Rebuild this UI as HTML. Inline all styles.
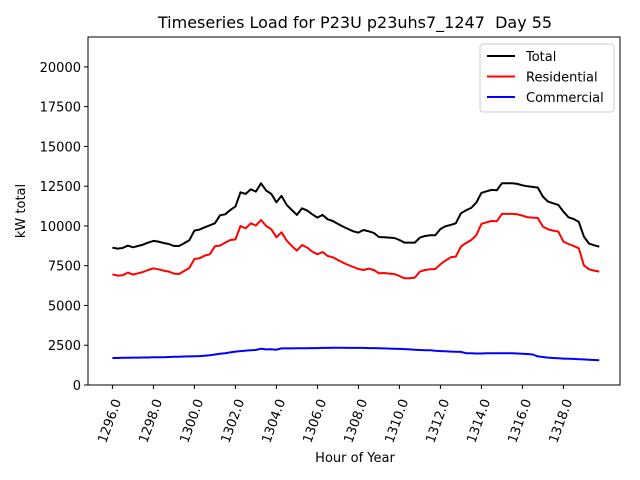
<!DOCTYPE html>
<html><head><meta charset="utf-8"><style>
body{margin:0;background:#fff;}
svg{display:block;font-family:"DejaVu Sans","Liberation Sans",sans-serif;}
</style></head><body>
<svg id="chart" width="640" height="480" viewBox="0 0 640 480">
<text x="355" y="28" text-anchor="middle" font-size="16">Timeseries Load for P23U p23uhs7_1247&#160; Day 55</text>
<g id="plot"></g>
<text x="355" y="462" text-anchor="middle" font-size="13">Hour of Year</text>
<text transform="translate(25,211) rotate(-90)" text-anchor="middle" font-size="13">kW total</text>
</svg>
<script>
const startHour = 1296;
const xTicks = [1296,1298,1300,1302,1304,1306,1308,1310,1312,1314,1316,1318];
const yTicks = [0,2500,5000,7500,10000,12500,15000,17500,20000];
const seriesNames = ["Total","Residential","Commercial"];
const total = [8637,8574,8616,8763,8658,8742,8826,8952,9057,9015,8931,8868,8742,8742,8910,9099,9706,9769,9916,10042,10168,10671,10734,11006,11216,12117,12013,12306,12159,12683,12222,12013,11488,11887,11321,11006,10692,11111,10964,10734,10524,10692,10419,10314,10126,9958,9811,9664,9581,9748,
9665,9560,9308,9287,9266,9245,9119,8952,8952,8952,9266,9371,9413,9413,9811,9979,10063,10168,10797,10985,11132,11468,12075,12180,12264,12243,12683,12683,12683,12642,12558,12495,12453,12411,11845,11530,11426,11321,10901,10545,10440,10252,9329,8889,8784,8700];
const residential = [6960,6876,6897,7065,6939,7023,7107,7233,7338,7275,7191,7128,7002,6981,7170,7358,7925,7966,8134,8218,8721,8763,8952,9119,9150,10000,9853,10168,10021,10377,10000,9790,9287,9602,9078,8742,8449,8805,8637,8386,8218,8365,8113,8029,7862,7694,7547,7421,7296,7233,
7317,7233,7023,7044,7002,6981,6855,6709,6709,6751,7128,7233,7275,7296,7589,7820,8029,8071,8700,8931,9119,9413,10126,10231,10314,10293,10755,10755,10755,10734,10650,10545,10524,10503,9958,9790,9706,9644,9015,8868,8742,8595,7526,7275,7191,7128];
const commercial = [1700,1700,1710,1710,1720,1720,1730,1730,1740,1740,1750,1760,1770,1780,1790,1800,1810,1820,1840,1870,
1920,1960,2000,2050,2100,2130,2160,2180,2200,2280,2240,2250,2220,2300,
2300,2300,2310,2310,2310,2320,2320,2330,2330,2340,2340,2340,2330,2330,2330,2330,2320,
2320,2310,2300,2290,2280,2270,2260,2240,2220,2200,
2190,2180,2150,2130,2120,2100,2090,2080,2000,1990,
1980,1980,1990,2000,2000,2000,1990,1990,1980,1960,
1950,1920,1800,1760,1720,1700,1680,
1660,1650,1640,1620,1610,1590,1570,1550];
const colors = ["#000000","#ff0000","#0000ff"];

const L=88,R=620,T=37,B=385;
const xMin=1294.81,xMax=1320.76,yMin=0,yMax=21880;
const xs=h=>L+(h-xMin)/(xMax-xMin)*(R-L);
const ys=v=>B-(v-yMin)/(yMax-yMin)*(B-T);
const NS="http://www.w3.org/2000/svg";
const g=document.getElementById('plot');
function mk(tag,attrs){const e=document.createElementNS(NS,tag);for(const k in attrs)e.setAttribute(k,attrs[k]);g.appendChild(e);return e;}

[total,residential,commercial].forEach((s,si)=>{
  const pts=s.map((v,i)=>xs(startHour+i/4).toFixed(1)+','+ys(v).toFixed(1)).join(' ');
  const p=mk('polyline',{points:pts,fill:'none',stroke:colors[si],'stroke-width':2,'stroke-linejoin':'round'});
  
  
});

const frame=mk('rect',{x:L,y:T,width:R-L,height:B-T,fill:'none',stroke:'#000','stroke-width':1});



xTicks.forEach(t=>{
  const x=xs(t);
  const tk=mk('line',{x1:x,y1:B,x2:x,y2:B+4,stroke:'#000'});
  
  
  const ax=x+9, ay=B+16;
  const tx=mk('text',{x:ax,y:ay,'text-anchor':'end','font-size':13,transform:`rotate(-70 ${ax} ${ay})`});
  tx.textContent=t.toFixed(1);
  
  
});
yTicks.forEach(t=>{
  const y=ys(t);
  const tk=mk('line',{x1:L-4,y1:y,x2:L,y2:y,stroke:'#000'});
  
  
  const tx=mk('text',{x:L-7,y:y+5,'text-anchor':'end','font-size':13});
  tx.textContent=String(t);
  
  
});

const lg=mk('rect',{x:480,y:44,width:134,height:68,rx:3,fill:'#fff','fill-opacity':0.8,stroke:'#ccc'});


seriesNames.forEach((n,i)=>{
  const y=56+i*20.5;
  const ln=mk('line',{x1:487,y1:y,x2:515,y2:y,stroke:colors[i],'stroke-width':2});
  
  
  const tx=mk('text',{x:526,y:y+5,'font-size':13});
  tx.textContent=n;
  
  
});
</script>
</body></html>
